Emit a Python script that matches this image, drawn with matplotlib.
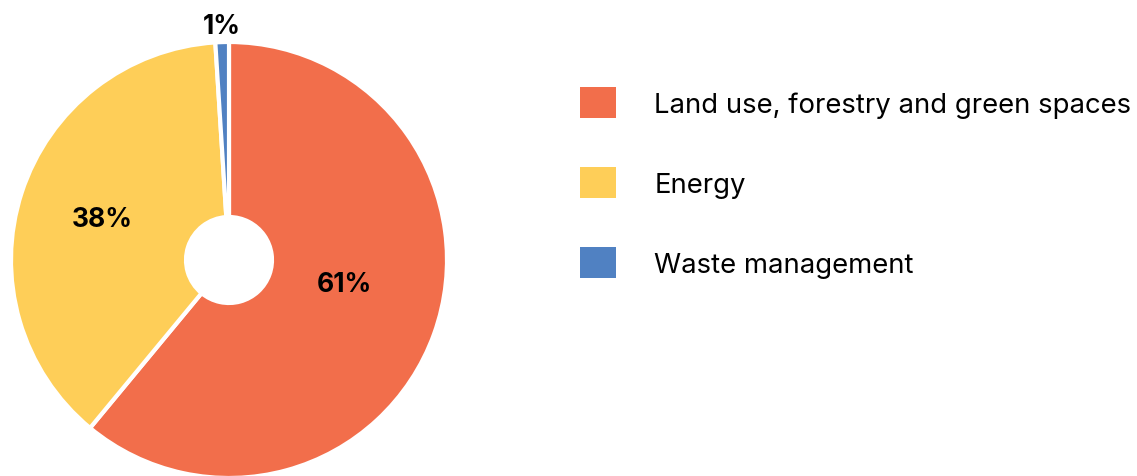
import matplotlib
matplotlib.use("Agg")
import matplotlib.pyplot as plt
import numpy as np

categories = ["Land use, forestry and green spaces", "Energy", "Waste management"]
shares = [61, 38, 1]
labels = ["61%", "38%", "1%"]
colors = ["#F26E4B", "#FECE58", "#5081C2"]

# label placement per slice: distance from centre, angle nudge (deg)
label_dist = [0.54, 0.61, 1.075]
label_nudge = [8, 0, 0]

plt.rcParams["font.family"] = ["Inter", "DejaVu Sans"]

fig = plt.figure(figsize=(11.37, 4.77), dpi=100)
ax = fig.add_axes([11 / 1137, -2 / 477, 436 / 1137, 436 / 477])

wedges, _ = ax.pie(
    shares,
    colors=colors,
    startangle=90,
    counterclock=False,
    radius=1,
    wedgeprops=dict(width=1 - 43 / 218, edgecolor="white", linewidth=3),
)
ax.set_xlim(-1, 1)
ax.set_ylim(-1, 1)
ax.set_aspect("equal")
ax.axis("off")

for w, lab, d, nud in zip(wedges, labels, label_dist, label_nudge):
    ang = np.deg2rad((w.theta1 + w.theta2) / 2 + nud)
    ax.text(d * np.cos(ang), d * np.sin(ang), lab, ha="center", va="center",
            fontsize=19, fontweight="bold", color="black", clip_on=False)

fig.legend(
    wedges,
    categories,
    loc="upper left",
    bbox_to_anchor=(569 / 1137, 1 - 77 / 477),
    frameon=False,
    fontsize=19.8,
    handlelength=1.3,
    handleheight=1.35,
    handletextpad=1.4,
    labelspacing=1.79,
    borderaxespad=0,
)
for h in fig.legends[0].legend_handles:
    h.set_edgecolor("none")

fig.savefig("out.png", dpi=100)
